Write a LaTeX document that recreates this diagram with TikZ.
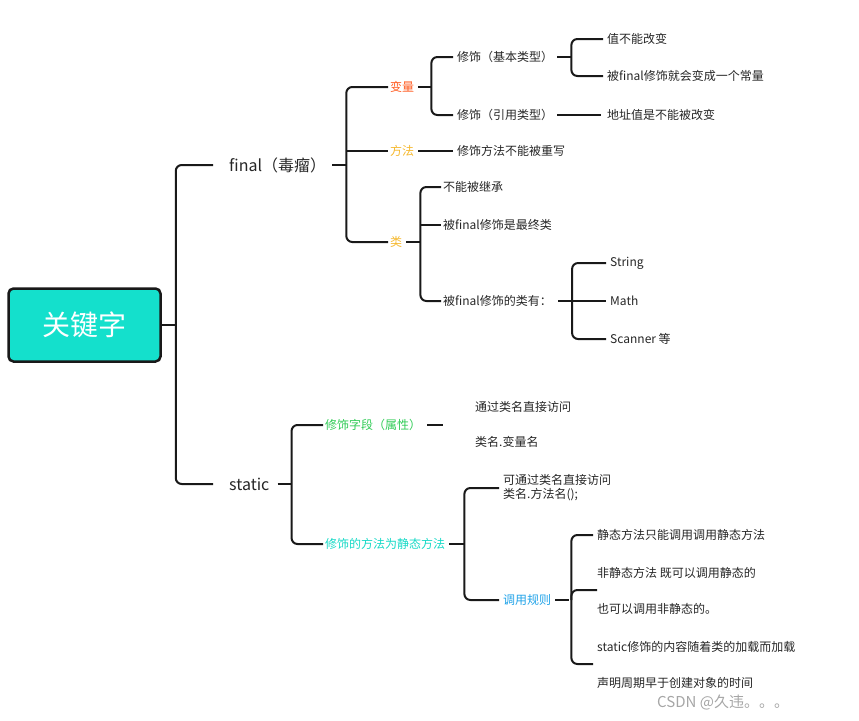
\documentclass[tikz,border=0pt]{standalone}
\usepackage{fontspec}
\setmainfont{Noto Sans CJK SC}
\usetikzlibrary{positioning, calc}
\definecolor{rootc}{HTML}{14E0CC}
\definecolor{redc}{HTML}{FF5A1F}
\definecolor{yelc}{HTML}{F5B82E}
\definecolor{grnc}{HTML}{2FCB55}
\definecolor{tealc}{HTML}{16D9C6}
\definecolor{bluc}{HTML}{1FA2E8}
\definecolor{txtc}{HTML}{262626}
\begin{document}
\begin{tikzpicture}[
    x=1pt, y=-1pt,
    every node/.style={font=\fontsize{12}{14}\selectfont, text=txtc},
    leaf/.style={anchor=west, inner sep=0pt},
    big/.style={leaf, font=\fontsize{16}{18}\selectfont},
    br/.style={line width=2pt, draw=black!90, rounded corners=6pt}
]
\useasboundingbox (0,0) rectangle (859,720);

% root
\node[draw=black!90, line width=2.5pt, fill=rootc, rounded corners=5pt,
    minimum width=152pt, minimum height=73pt, text=white,
    font=\fontsize{28}{30}\selectfont] (root) at (84.5,325) {关键字};

% first level
\node[big] (fin) at (229,165) {final（毒瘤）};
\node[big] (sta) at (229,484) {static};

% final branch
\node[leaf, text=redc] (var) at (390,87) {变量};
\node[leaf, text=yelc] (met) at (390,151) {方法};
\node[leaf, text=yelc] (cls) at (390,242) {类};
\node[leaf] (basic) at (457,57) {修饰（基本类型）};
\node[leaf] (refer) at (457,115) {修饰（引用类型）};
\node[leaf] (nochg) at (607,39) {值不能改变};
\node[leaf] (const) at (607,76) {被final修饰就会变成一个常量};
\node[leaf] (addr) at (607,115) {地址值是不能被改变};
\node[leaf] (noovr) at (457,151) {修饰方法不能被重写};
\node[leaf] (noinh) at (443,187) {不能被继承};
\node[leaf] (last) at (443,225) {被final修饰是最终类};
\node[leaf] (have) at (443,301) {被final修饰的类有：};
\node[leaf] (str) at (610,263) {String};
\node[leaf] (math) at (610,301) {Math};
\node[leaf] (scan) at (610,339) {Scanner 等};

% static branch
\node[leaf, text=grnc] (fld) at (325,425) {修饰字段（属性）};
\node[leaf, text=tealc] (smet) at (325,544) {修饰的方法为静态方法};
\node[leaf] (acc) at (475,407) {通过类名直接访问};
\node[leaf] (vname) at (475,442) {类名.变量名};
\node[leaf, align=left] (cacc) at (503,488) {可通过类名直接访问\\类名.方法名();};
\node[leaf, text=bluc] (rule) at (503,600) {调用规则};
\node[leaf] (r1) at (597,535) {静态方法只能调用调用静态方法};
\node[leaf] (r2) at (597,573) {非静态方法 既可以调用静态的};
\node[leaf] (r3) at (597,609) {也可以调用非静态的。};
\node[leaf] (r4) at (597,647) {static修饰的内容随着类的加载而加载};
\node[leaf] (r5) at (597,683) {声明周期早于创建对象的时间};
\node[leaf, text=black!35, font=\fontsize{15}{17}\selectfont] (mark) at (657,702) {CSDN @久违。。。};

% brackets
\draw[br] (root.east) -- ++(14,0) coordinate (k0);
\draw[br] ([xshift=-16]fin.west) -| (k0) |- ([xshift=-16]sta.west);

\draw[br] ([xshift=6]fin.east) -- ++(14,0) coordinate (f0);
\draw[br] ([xshift=-2]var.west) -| (f0) |- ([xshift=-2]cls.west);
\draw[br] (f0 |- met.west) -- ([xshift=-2]met.west);

\draw[br] ([xshift=4]var.east) -- ++(13,0) coordinate (v0);
\draw[br] ([xshift=-4]basic.west) -| (v0) |- ([xshift=-4]refer.west);
\draw[br] ([xshift=4]basic.east) -- ++(14,0) coordinate (b0);
\draw[br] ([xshift=-4]nochg.west) -| (b0) |- ([xshift=-4]const.west);
\draw[br] ([xshift=4]refer.east) -- ([xshift=-6]addr.west);
\draw[br] ([xshift=4]met.east) -- ([xshift=-4]noovr.west);

\draw[br] ([xshift=4]cls.east) -- ++(14,0) coordinate (c0);
\draw[br] ([xshift=-2]noinh.west) -| (c0) |- ([xshift=-2]have.west);
\draw[br] (c0 |- last.west) -- ([xshift=-2]last.west);
\draw[br] ([xshift=6]have.east) -- ++(14,0) coordinate (h0);
\draw[br] ([xshift=-4]str.west) -| (h0) |- ([xshift=-4]scan.west);
\draw[br] (h0 |- math.west) -- ([xshift=-4]math.west);

\draw[br] ([xshift=8]sta.east) -- ++(14,0) coordinate (s0);
\draw[br] ([xshift=-2]fld.west) -| (s0) |- ([xshift=-2]smet.west);
\draw[br] ([xshift=6]fld.east) -- ++(16,0) coordinate (d0);

\draw[br] ([xshift=4]smet.east) -- ++(15,0) coordinate (m0);
\draw[br] ([xshift=-4]cacc.west) -| (m0) |- ([xshift=-4]rule.west);

\draw[br] ([xshift=4]rule.east) -- ++(14,0) coordinate (u0);
\draw[br] ([xshift=-4]r1.west) -| ([xshift=2]u0) |- ([xshift=-4]r4.west |- 0,664) coordinate (u2);
\draw[br] ([xshift=2]u0) |- (r2.west |- 0,590) coordinate (u1);
\end{tikzpicture}
\end{document}
